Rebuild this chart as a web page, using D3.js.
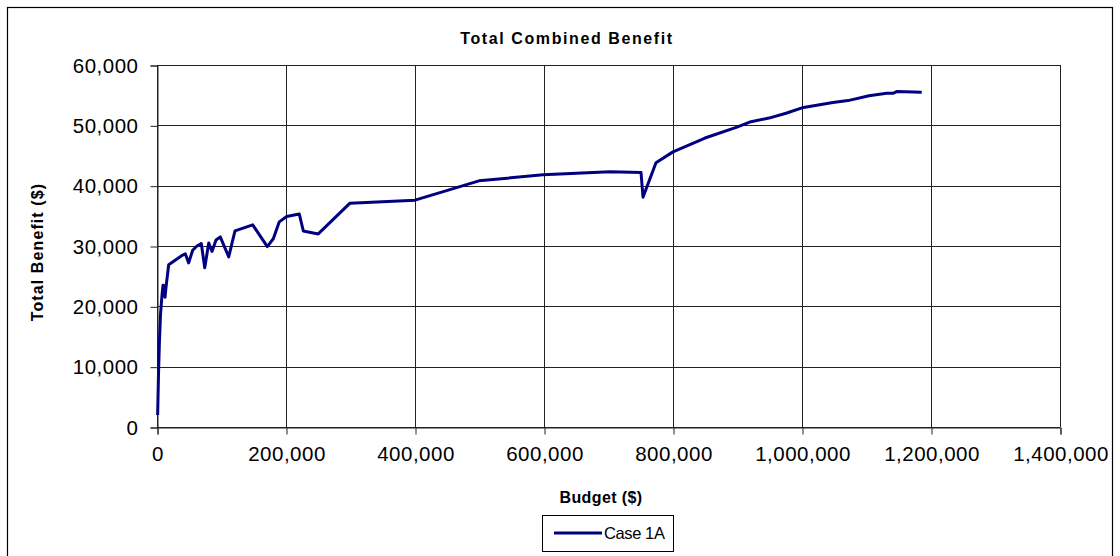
<!DOCTYPE html>
<html>
<head>
<meta charset="utf-8">
<script src="https://cdn.jsdelivr.net/npm/d3@7"></script>
<style>
  html, body { margin: 0; padding: 0; background: #fff; }
  svg { display: block; font-family: "Liberation Sans", Arial, sans-serif; }
</style>
</head>
<body>
<svg id="chart" width="1120" height="556"></svg>
<script>
// Budget ($) spent and the resulting total combined benefit ($)
const budget = [
  1000, 2300, 3600, 5400, 7800, 9300, 11600, 12400, 14000, 18100,
  39800, 43900, 49100, 55300, 62000, 68700, 74000, 80200, 85300, 91500,
  98100, 111200, 120900, 148400, 171000, 180300, 189600, 201000, 220600, 226800,
  250000, 299200, 400000, 499200, 598500, 702300, 750400, 753500, 773600, 800000,
  849600, 899200, 920900, 948800, 975200, 1000000, 1048000, 1071300, 1104000, 1131300,
  1141000, 1146800, 1185600
];
const benefit = [
  2000, 8600, 13600, 18600, 21900, 23500, 23400, 21500, 23200, 26900,
  28500, 28700, 27200, 29300, 30000, 30400, 26400, 30500, 29100, 31000,
  31500, 28200, 32500, 33500, 29900, 31200, 34000, 34900, 35300, 32500,
  32000, 37100, 37600, 40800, 41800, 42300, 42200, 38100, 43800, 45600,
  47900, 49700, 50600, 51200, 52000, 52900, 53800, 54100, 54900, 55300,
  55300, 55600, 55500
];
const seriesName = "Case 1A";
const xTicks = [0, 200000, 400000, 600000, 800000, 1000000, 1200000, 1400000];
const yTicks = [0, 10000, 20000, 30000, 40000, 50000, 60000];

const svg = d3.select("#chart");
const plot = { left: 157, right: 1060, top: 65, bottom: 427 };
const fmt = d3.format(",");

// Outer chart frame
svg.append("rect")
  .attr("x", 7.5).attr("y", 7.5)
  .attr("width", 1105).attr("height", 560)
  .attr("fill", "#fff").attr("stroke", "#000").attr("stroke-width", 1.2);

const x = d3.scaleLinear().domain([0, 1400000]).range([plot.left, plot.right]);
const y = d3.scaleLinear().domain([0, 60000]).range([plot.bottom, plot.top]);

// Grid lines
const grid = svg.append("g").attr("stroke", "#222").attr("stroke-width", 1);
grid.selectAll("line.h").data(yTicks).join("line")
  .attr("x1", plot.left).attr("x2", plot.right)
  .attr("y1", d => Math.round(y(d)) + 0.5).attr("y2", d => Math.round(y(d)) + 0.5);
grid.selectAll("line.v").data(xTicks).join("line")
  .attr("y1", plot.top).attr("y2", plot.bottom)
  .attr("x1", d => Math.round(x(d)) + 0.5).attr("x2", d => Math.round(x(d)) + 0.5);

// Axes
const xAxis = svg.append("g")
  .attr("transform", `translate(0.5,${Math.round(plot.bottom) + 0.5})`)
  .call(d3.axisBottom(x).tickValues(xTicks).tickFormat(fmt).tickSizeOuter(0).tickSize(7).tickPadding(12));
const yAxis = svg.append("g")
  .attr("transform", `translate(${plot.left + 0.5},0.5)`)
  .call(d3.axisLeft(y).tickValues(yTicks).tickFormat(fmt).tickSizeOuter(0).tickSize(7).tickPadding(12));
[xAxis, yAxis].forEach(a => {
  a.selectAll("path, line").attr("stroke", "#222");
  a.selectAll("text").attr("font-size", 20.5).attr("letter-spacing", 0.5).attr("fill", "#000")
    .attr("font-family", "\"Liberation Sans\", Arial, sans-serif");
});

// Data line
const pts = budget.map((b, i) => [b, benefit[i]]);
svg.append("path")
  .datum(pts)
  .attr("fill", "none")
  .attr("stroke", "#000080")
  .attr("stroke-width", 3)
  .attr("stroke-linejoin", "round")
  .attr("d", d3.line().x(d => x(d[0])).y(d => y(d[1])));

// Titles
svg.append("text")
  .attr("x", 567).attr("y", 44)
  .attr("text-anchor", "middle")
  .attr("font-size", 16).attr("font-weight", "bold").attr("letter-spacing", 1.6)
  .text("Total Combined Benefit");
svg.append("text")
  .attr("x", 601).attr("y", 503)
  .attr("text-anchor", "middle")
  .attr("font-size", 16).attr("font-weight", "bold").attr("letter-spacing", 0.4)
  .text("Budget ($)");
svg.append("text")
  .attr("transform", "translate(43,252) rotate(-90)")
  .attr("text-anchor", "middle")
  .attr("font-size", 16).attr("font-weight", "bold").attr("letter-spacing", 1.1)
  .text("Total Benefit ($)");

// Legend
const lg = svg.append("g");
lg.append("rect")
  .attr("x", 542.5).attr("y", 515.5).attr("width", 131).attr("height", 36)
  .attr("fill", "#fff").attr("stroke", "#000").attr("stroke-width", 1);
lg.append("line")
  .attr("x1", 554).attr("x2", 602).attr("y1", 533).attr("y2", 533)
  .attr("stroke", "#000080").attr("stroke-width", 3);
lg.append("text")
  .attr("x", 604).attr("y", 539)
  .attr("font-size", 16.5).attr("letter-spacing", -0.4)
  .text(seriesName);
</script>
</body>
</html>
